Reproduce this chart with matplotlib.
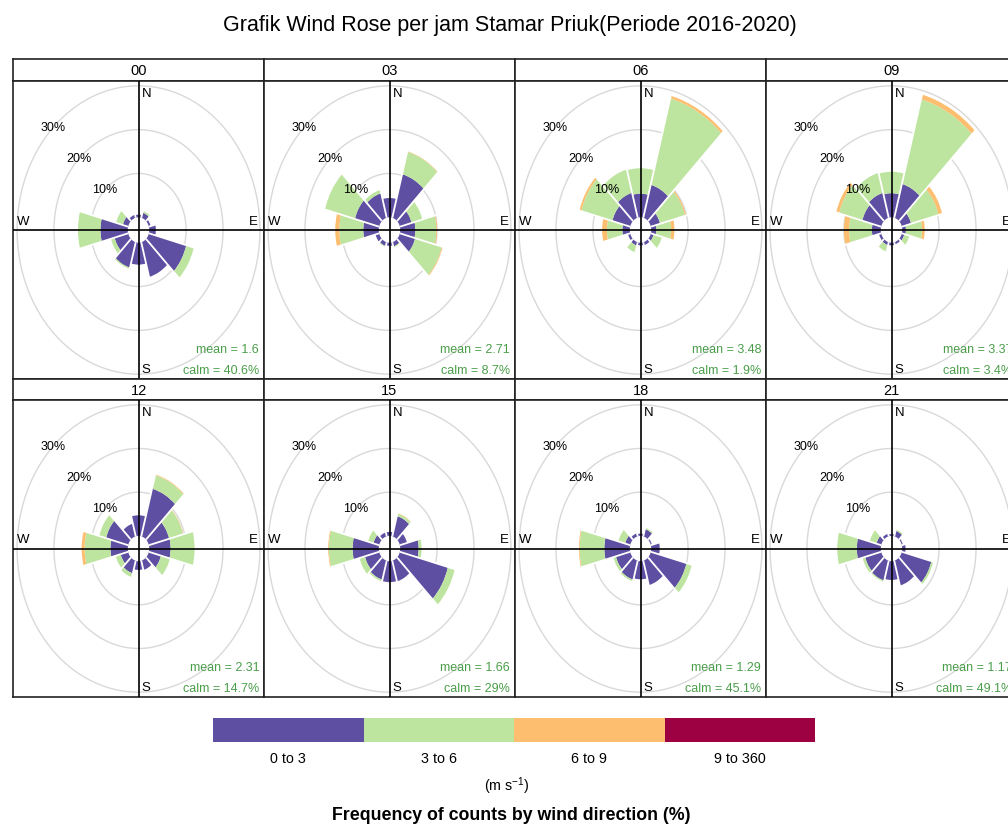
import matplotlib
matplotlib.use('Agg')
import matplotlib.pyplot as plt
from matplotlib.patches import Wedge
import numpy as np

hours = ['00', '03', '06', '09', '12', '15', '18', '21']
means = ['1.6', '2.71', '3.48', '3.37', '2.31', '1.66', '1.29', '1.17']
calms = ['40.6%', '8.7%', '1.9%', '3.4%', '14.7%', '29%', '45.1%', '49.1%']
directions = [0, 30, 60, 90, 120, 150, 180, 210, 240, 270, 300, 330]
speed_bins = ['0 to 3', '3 to 6', '6 to 9', '9 to 360']
bin_colors = ['#5E4FA2', '#BEE5A0', '#FDBE6F', '#9E0142']
grid_pct = [10, 20, 30]

# frequency (%) by direction, per speed bin (9 to 360 is ~0 everywhere)
h00_0to3 = [0.6, 1.2, 0.5, 1.8, 10.5, 8.2, 5.0, 6.0, 3.8, 7.4, 1.5, 0.7]
h00_3to6 = [0.0, 0.4, 0.0, 0.0, 2.1, 0.0, 0.0, 0.3, 1.0, 6.1, 1.9, 0.0]
h00_6to9 = [0, 0, 0, 0, 0, 0, 0, 0, 0, 0, 0, 0]

h03_0to3 = [4.4, 10.3, 3.3, 4.1, 4.3, 1.0, 0.7, 0.9, 1.0, 4.2, 6.8, 5.8]
h03_3to6 = [0.0, 5.3, 3.0, 5.7, 7.5, 0.2, 0.0, 0.2, 0.0, 6.5, 8.4, 0.8]
h03_6to9 = [0, 0.1, 0, 0.2, 0.2, 0, 0, 0, 0, 1.1, 0, 0]

h06_0to3 = [5.4, 7.8, 2.6, 1.4, 0.8, 0.7, 0.6, 0.8, 0.6, 2.0, 5.0, 5.9]
h06_3to6 = [5.8, 20.4, 7.0, 4.0, 2.3, 0.0, 0.0, 1.6, 0.0, 4.2, 8.7, 5.5]
h06_6to9 = [0, 0.6, 0.3, 0.9, 0, 0, 0, 0, 0, 1.3, 0.5, 0]

h09_0to3 = [5.5, 8.0, 2.6, 1.0, 0.7, 0.5, 0.6, 0.7, 0.6, 2.4, 5.3, 5.9]
h09_3to6 = [4.9, 20.0, 7.7, 4.4, 1.4, 0.0, 0.0, 1.5, 0.0, 6.2, 6.5, 4.7]
h09_6to9 = [0, 1.1, 1.0, 0.7, 0, 0, 0, 0, 0, 1.4, 0.8, 0]

h12_0to3 = [4.7, 11.3, 5.7, 5.8, 3.4, 2.2, 2.0, 3.0, 2.1, 4.7, 6.2, 3.0]
h12_3to6 = [0.0, 3.2, 3.9, 6.5, 2.5, 0.0, 0.0, 0.9, 1.4, 7.0, 1.9, 0.0]
h12_6to9 = [0, 0.15, 0.1, 0, 0, 0, 0, 0, 0, 0.8, 0, 0]

h15_0to3 = [0.9, 4.8, 2.0, 5.0, 13.5, 4.9, 4.8, 4.5, 4.0, 7.1, 1.6, 0.9]
h15_3to6 = [0.0, 0.6, 0.0, 0.8, 1.9, 0.0, 0.0, 0.4, 1.5, 6.4, 1.5, 0.0]
h15_6to9 = [0, 0.1, 0, 0, 0, 0, 0, 0, 0, 0.2, 0, 0]

h18_0to3 = [0.5, 1.7, 0.3, 2.3, 10.0, 5.8, 4.15, 4.5, 4.0, 6.9, 1.4, 0.7]
h18_3to6 = [0.0, 0.3, 0.0, 0.0, 1.5, 0.0, 0.0, 0.4, 0.7, 6.7, 1.9, 0.0]
h18_6to9 = [0, 0, 0, 0, 0, 0, 0, 0, 0, 0.2, 0, 0]

h21_0to3 = [0.4, 1.3, 0.3, 0.9, 8.3, 5.9, 4.3, 4.7, 4.5, 6.5, 1.3, 0.6]
h21_3to6 = [0.0, 0.3, 0.0, 0.0, 0.5, 0.0, 0.0, 0.3, 0.7, 5.3, 1.9, 0.0]
h21_6to9 = [0, 0, 0, 0, 0, 0, 0, 0, 0, 0, 0, 0]

freqs = [
    [h00_0to3, h00_3to6, h00_6to9],
    [h03_0to3, h03_3to6, h03_6to9],
    [h06_0to3, h06_3to6, h06_6to9],
    [h09_0to3, h09_3to6, h09_6to9],
    [h12_0to3, h12_3to6, h12_6to9],
    [h15_0to3, h15_3to6, h15_6to9],
    [h18_0to3, h18_3to6, h18_6to9],
    [h21_0to3, h21_3to6, h21_6to9],
]

plt.rcParams['font.family'] = ['Liberation Sans', 'DejaVu Sans']
plt.rcParams['mathtext.fontset'] = 'custom'
plt.rcParams['mathtext.rm'] = 'Liberation Sans'
plt.rcParams['mathtext.it'] = 'Liberation Sans'

W, H = 1008, 827
OFF = 2.9     # hollow centre
LIM = 34.0
STAT_GREEN = '#4a9e4a'

fig = plt.figure(figsize=(W / 100, H / 100), dpi=100)


def px_axes(x, y, w, h):
    return fig.add_axes([x / W, 1 - (y + h) / H, w / W, h / H])


def draw_rose(ax, bins, mean, calm):
    ax.set_xlim(-LIM, LIM)
    ax.set_ylim(-LIM, LIM)
    ax.set_xticks([])
    ax.set_yticks([])
    for s in ax.spines.values():
        s.set_linewidth(1.2)
        s.set_color('#222222')
    t = np.linspace(0, 2 * np.pi, 300)
    for g in grid_pct:
        ax.plot((OFF + g) * np.cos(t), (OFF + g) * np.sin(t), color='#d9d9d9', lw=1.0, zorder=1)
    tops = np.full(len(directions), OFF)
    for vals, col in zip(bins, bin_colors):
        for d, v, base in zip(directions, vals, tops):
            if v > 0:
                ax.add_patch(Wedge((0, 0), base + v, 90 - d - 15, 90 - d + 15, width=v,
                                   facecolor=col, edgecolor='none', zorder=2))
        tops = tops + np.array(vals)
    # white gaps between sectors
    n = len(directions)
    for i, d in enumerate(directions):
        r = max(tops[i], tops[(i + 1) % n]) + 0.4
        a = np.radians(90 - d - 15)
        ax.plot([OFF * np.cos(a), r * np.cos(a)], [OFF * np.sin(a), r * np.sin(a)],
                color='white', lw=1.3, zorder=3, solid_capstyle='butt')
    ax.axhline(0, color='black', lw=1.2, zorder=4)
    ax.axvline(0, color='black', lw=1.2, zorder=4)
    for g in grid_pct:
        r = OFF + g
        ax.text(-r * np.sin(np.pi / 4), r * np.cos(np.pi / 4), f'{g}%', ha='center', va='center',
                fontsize=9, zorder=5)
    ax.text(0.9, 31.0, 'N', ha='left', va='center', fontsize=9.5, zorder=5)
    ax.text(0.9, -32.0, 'S', ha='left', va='center', fontsize=9.5, zorder=5)
    ax.text(-33.0, 1.9, 'W', ha='left', va='center', fontsize=9.5, zorder=5)
    ax.text(32.2, 1.9, 'E', ha='right', va='center', fontsize=9.5, zorder=5)
    ax.text(32.7, -27.3, f'mean = {mean}', ha='right', va='center', fontsize=9,
            color=STAT_GREEN, zorder=5)
    ax.text(32.7, -32.2, f'calm = {calm}', ha='right', va='center', fontsize=9,
            color=STAT_GREEN, zorder=5)


col_x = [13, 264, 515, 766]
col_w = 251
rows = [(59, 22, 81, 298), (379, 21, 400, 297)]

for k, hr in enumerate(hours):
    row, col = divmod(k, 4)
    sy, sh, py, ph = rows[row]
    strip = px_axes(col_x[col], sy, col_w, sh)
    strip.set_xticks([])
    strip.set_yticks([])
    for s in strip.spines.values():
        s.set_linewidth(1.2)
        s.set_color('#222222')
    strip.text(0.5, 0.45, hr, ha='center', va='center', fontsize=10.5, transform=strip.transAxes)
    ax = px_axes(col_x[col], py, col_w, ph)
    draw_rose(ax, freqs[k], means[k], calms[k])

# colour key
key = px_axes(213, 718, 602, 24)
key.bar(range(len(speed_bins)), [1] * len(speed_bins), width=1.0, color=bin_colors)
key.set_xlim(-0.5, len(speed_bins) - 0.5)
key.set_ylim(0, 1)
key.axis('off')
for i, lab in enumerate(speed_bins):
    fig.text((213 + 602 * (i + 0.5) / 4) / W, 1 - 759 / H, lab, ha='center', va='center', fontsize=10.3)
fig.text(507 / W, 1 - 786 / H, r'(m s$^{-1}$)', ha='center', va='center', fontsize=10.3)
fig.text(511 / W, 1 - 815 / H, 'Frequency of counts by wind direction (%)', ha='center', va='center',
         fontsize=12.8, fontweight='bold')

fig.text(510 / W, 1 - 25 / H, 'Grafik Wind Rose per jam Stamar Priuk(Periode 2016-2020)',
         ha='center', va='center', fontsize=15.5)

fig.savefig('out.png', dpi=100)
